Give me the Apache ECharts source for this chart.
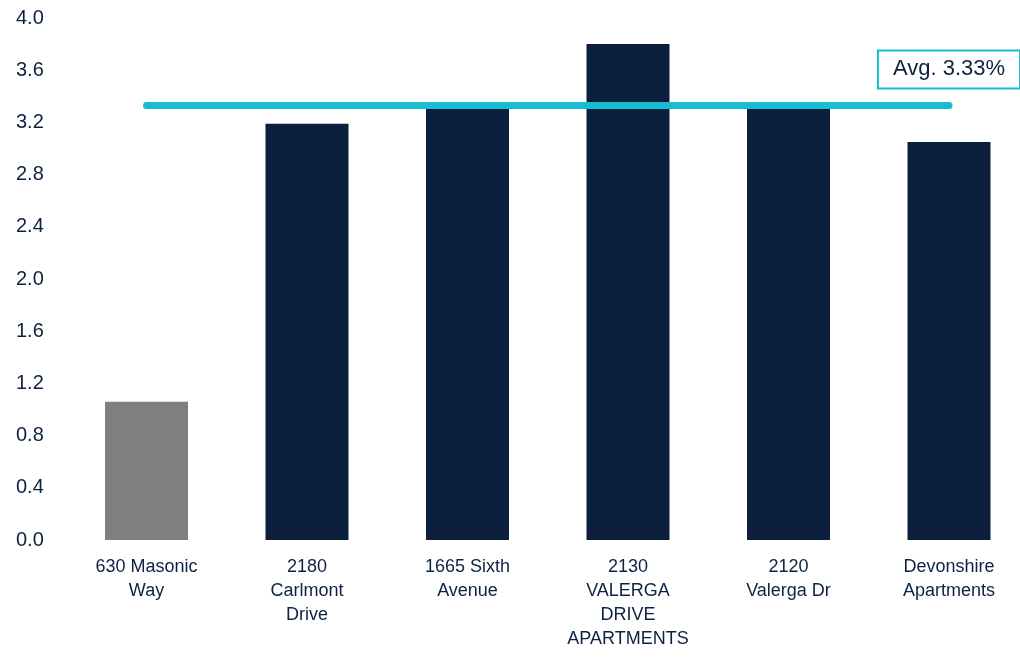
<!DOCTYPE html>
<html>
<head>
<meta charset="utf-8">
<script src="https://cdn.jsdelivr.net/npm/echarts@6/dist/echarts.min.js"></script>
<style>html,body{margin:0;padding:0;background:#fff}#c{width:1020px;height:657px}</style>
</head>
<body>
<div id="c"></div>
<script>
const categories = ["630 Masonic\nWay", "2180\nCarlmont\nDrive", "1665 Sixth\nAvenue", "2130\nVALERGA\nDRIVE\nAPARTMENTS", "2120\nValerga Dr", "Devonshire\nApartments"];
const values = [1.06, 3.19, 3.31, 3.80, 3.31, 3.05];
const barColors = ["#7f7f7f", "#0b1f3d", "#0b1f3d", "#0b1f3d", "#0b1f3d", "#0b1f3d"];
const average = 3.33;
const avgLabel = "Avg. 3.33%";

const textColor = "#0d2140";
const chart = echarts.init(document.getElementById('c'), null, {renderer: 'canvas'});
chart.setOption({
  animation: false,
  grid: {left: 146.5, top: 18, bottom: 117, right: 71},
  xAxis: {
    type: 'category',
    boundaryGap: false,
    data: categories,
    axisLine: {show: false},
    axisTick: {show: false},
    splitLine: {show: false},
    axisLabel: {color: textColor, fontSize: 18, lineHeight: 24, margin: 15, fontFamily: 'Liberation Sans, Arial, sans-serif', interval: 0}
  },
  yAxis: {
    type: 'value',
    min: 0, max: 4.0, interval: 0.4,
    splitLine: {show: false},
    axisLine: {show: false},
    axisTick: {show: false},
    axisLabel: {color: textColor, fontSize: 20, align: 'left', margin: 130.5, fontFamily: 'Liberation Sans, Arial, sans-serif',
      formatter: v => v.toFixed(1)}
  },
  series: [{
    type: 'bar',
    barWidth: 83,
    data: values.map((v, i) => ({value: v, itemStyle: {color: barColors[i]}})),
    markLine: {
      silent: true,
      symbol: 'none',
      label: {show: false},
      lineStyle: {color: '#17bcd1', width: 7, type: 'solid', cap: 'round'},
      data: [[{coord: [0, average]}, {coord: [categories.length - 1, average]}]]
    },
    markPoint: {
      symbol: 'rect', symbolSize: 0,
      data: [{coord: [categories.length - 1, average], value: average}],
      label: {
        show: true, formatter: avgLabel, offset: [0, -36],
        color: textColor, fontSize: 22, lineHeight: 24, fontFamily: 'Liberation Sans, Arial, sans-serif',
        backgroundColor: '#fff', borderColor: '#17bcd1', borderWidth: 2,
        padding: [7, 14, 5, 14]
      }
    }
  }]
});
</script>
</body>
</html>
